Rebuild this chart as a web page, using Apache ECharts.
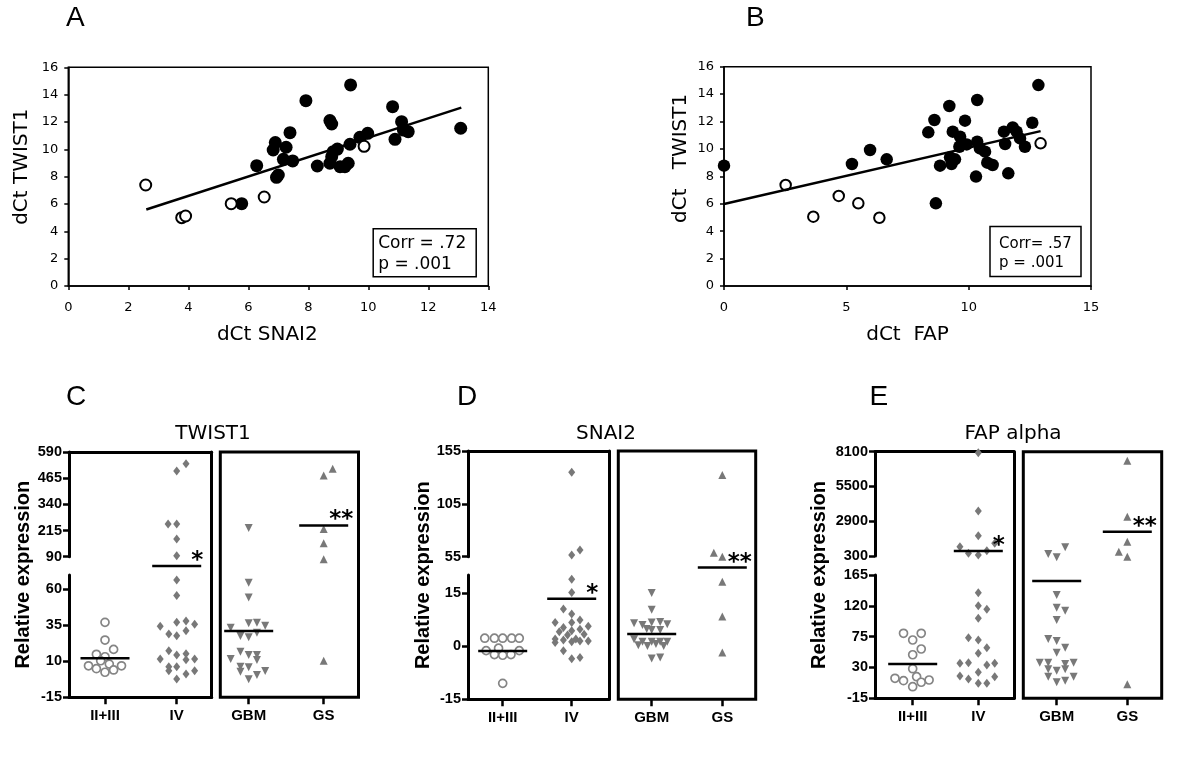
<!DOCTYPE html>
<html><head><meta charset="utf-8">
<script src="https://cdn.jsdelivr.net/npm/echarts@6/dist/echarts.min.js"></script>
<style>html,body{margin:0;padding:0;background:#fff}#c{width:1200px;height:759px}</style>
</head><body><div id="c"></div>
<script>
// ---------------- DATA ----------------
// Panel A: dCt SNAI2 (x) vs dCt TWIST1 (y)
const aFilled = [[5.78,6.02],[6.28,8.8],[6.83,9.95],[6.9,10.49],[6.94,7.95],[7.0,8.12],[7.17,9.27],[7.26,10.15],[7.39,11.22],[7.48,9.15],[7.92,13.56],[8.3,8.78],[8.72,12.1],[8.78,11.85],[8.72,8.98],[8.78,9.46],[8.83,9.83],[8.97,10.02],[9.06,8.73],[9.22,8.73],[9.33,8.98],[9.39,10.37],[9.41,14.71],[9.72,10.88],[9.98,11.17],[10.81,13.12],[10.89,10.73],[11.11,12.02],[11.17,11.41],[11.33,11.29],[13.08,11.54]];
const aOpen = [[2.58,7.39],[3.78,5.0],[3.91,5.12],[5.43,6.02],[6.53,6.51],[9.86,10.22]];
const aTrend = [[2.6,5.6],[13.1,13.05]];
const aStats = 'Corr = .72\np = .001';
// Panel B: dCt FAP (x) vs dCt TWIST1 (y)
const bFilled = [[0,8.78],[5.23,8.9],[5.97,9.92],[6.65,9.24],[8.35,11.21],[8.6,12.11],[8.66,6.03],[8.83,8.78],[9.21,13.13],[9.24,9.39],[9.3,8.9],[9.35,11.26],[9.44,9.24],[9.65,10.89],[9.62,10.16],[9.85,12.06],[9.92,10.33],[10.3,7.98],[10.35,13.57],[10.35,10.53],[10.46,10.04],[10.67,9.8],[10.76,9.0],[10.98,8.83],[11.44,11.26],[11.49,10.36],[11.62,8.22],[11.8,11.57],[11.96,11.26],[12.1,10.77],[12.3,10.16],[12.6,11.91],[12.85,14.66]];
const bOpen = [[2.52,7.37],[3.65,5.06],[4.69,6.57],[5.49,6.03],[6.35,4.98],[12.94,10.41]];
const bTrend = [[0,5.98],[12.94,11.3]];
const bStats = 'Corr= .57\np = .001';

// Panels C-E: each point = [offset from category centre (category units), relative expression]
const catsLeft = ['II+III','IV'];
const catsRight = ['GBM','GS'];
// C: TWIST1
const cII = [[0,37.1],[0,24.8],[0.12,18.3],[-0.12,14.9],[0,13.2],[-0.06,10.4],[-0.23,6.9],[-0.12,4.9],[0.06,8.1],[0.12,4.0],[0,2.4],[0.23,6.9]];
const cIV = [[0.13,534],[0,499],[-0.12,246],[0,246],[0,175],[0,95],[0,66.5],[0,55.8],[0,37.1],[0.13,38],[0.25,35.7],[-0.23,34.3],[0.13,31.3],[-0.11,29],[0,27.8],[-0.11,17.4],[0,14.4],[0.13,15.3],[0.13,11.1],[-0.23,11.6],[0.25,11.6],[-0.11,6.3],[0,6.3],[-0.11,3.5],[0.13,1.2],[0.25,3.5],[0,-2.3]];
const cGBM = [[0,226.5],[0,64.6],[0,54.4],[0,36.4],[0.11,36.8],[0.22,34.7],[-0.24,33.3],[-0.11,27.6],[0,26.7],[0.11,29.9],[-0.11,16.7],[0,14.4],[0.11,14.4],[-0.24,11.6],[0.11,10.9],[-0.11,6.3],[0,5.8],[-0.11,2.8],[0.11,0.5],[0.22,3.3],[0,-2.5]];
const cGS = [[0.12,510],[0,478],[0,222],[0,154],[0,81],[0,10.4]];
const cMeans = [12.1, 76.2, 31.0, 239];
const cStars = ['', '*', '', '**'];
const cUpper = [90, 590, 125];
const cLower = [-15, 70, 25];
// D: SNAI2
const dII = [[-0.26,2.2],[-0.12,2.2],[0,2.2],[0.13,2.2],[0.24,2.2],[-0.24,-1.3],[-0.12,-2.4],[0,-2.6],[0.12,-2.4],[0.24,-1.3],[-0.06,-0.6],[0,-10.5]];
const dIV = [[0,134.8],[0.12,61.3],[0,56.6],[0,18.8],[0,15.1],[-0.12,10.4],[0,9.0],[-0.24,6.6],[0,6.6],[0.12,7.3],[0.24,5.6],[-0.12,5.2],[0,4.3],[0.12,4.7],[0.18,3.3],[-0.24,2.0],[-0.12,1.7],[0,1.2],[0.06,2.0],[0.12,1.4],[0.24,1.4],[-0.24,1.0],[-0.12,-1.3],[0,-3.6],[0.12,-3.2],[-0.06,3.1],[-0.18,4.0]];
const dGBM = [[0,14.9],[0,10.2],[-0.25,6.4],[-0.13,5.9],[0,6.6],[0.12,6.8],[0.22,6.1],[0,4.5],[0.12,4.5],[-0.07,4.8],[-0.25,1.9],[-0.13,1.2],[0,1.2],[0.12,1.2],[0.22,1.2],[-0.19,0.2],[-0.06,0],[0.06,0.6],[0.17,0],[0,-3.5],[0.12,-3.2]];
const dGS = [[0,132.3],[-0.12,58.8],[0,55],[0,18.1],[0,8.3],[0,-1.8]];
const dMeans = [-1.4, 13.3, 3.4, 22.1];
const dStars = ['', '*', '', '**'];
const dUpper = [55, 155, 50];
const dLower = [-15, 20, 15];
// E: FAP alpha
const eII = [[-0.14,79.9],[0.13,79.9],[0,70.1],[0.13,57],[0,48.6],[0,28.2],[-0.27,14.2],[-0.14,10.7],[0.06,16.5],[0.13,8.4],[0.25,11.7],[0,1.9]];
const eIV = [[0,8017],[0,3660],[0,1816],[-0.28,995],[0.25,1249],[-0.15,502],[0,375],[0.13,696],[0,139.2],[0,120.2],[0.13,115],[0,101.8],[-0.15,73.5],[0,70.1],[0.13,58.9],[0,50.7],[-0.28,36.1],[-0.15,37],[0.13,33.6],[0.25,36.1],[0,23],[-0.28,17.6],[-0.15,13.2],[0.25,16.5],[0,6.9],[0.13,6.9]];
const eGBM = [[0.12,950],[-0.12,449],[0,190.8],[0,135.8],[0,117.3],[0.12,112.9],[0,99.3],[-0.12,71.6],[0,68.6],[0.12,58.9],[0,51.6],[-0.24,37],[-0.12,37],[0.12,35.1],[0.24,37],[-0.12,27.3],[0,25.3],[0.12,27.3],[-0.12,16.5],[0,8.4],[0.12,10.7],[0.24,16.5]];
const eGS = [[0,7419],[0,3236],[0,1368],[-0.12,621],[0,191.7],[0,5.4]];
const eMeans = [35.1, 673, 156.2, 2115];
const eStars = ['', '*', '', '**'];
const eUpper = [300, 8100, 2600];
const eLower = [-15, 165, 45];

// ---------------- LAYOUT / STYLE ----------------
const FV = '"DejaVu Sans", Verdana, sans-serif';
const FA = '"Liberation Sans", Arial, sans-serif';
const grids = [], xAxes = [], yAxes = [], series = [];
function addGrid(g) { grids.push(Object.assign({show:false, outerBoundsMode:'none'}, g)); return grids.length - 1; }
function pushX(a) { xAxes.push(a); return xAxes.length - 1; }
function pushY(a) { yAxes.push(a); return yAxes.length - 1; }
const black = '#000';
const plain = v => String(v);

// ---- Panels A and B ----
function scatterPanel(box, xr, yr, xName, yName, filled, open, trend, opts) {
  const gi = addGrid({left:box[0], top:box[1], width:box[2], height:box[3], show:true, borderColor:black, borderWidth:1.5, backgroundColor:'transparent'});
  const xi = pushX({gridIndex:gi, type:'value', min:xr[0], max:xr[1], interval:xr[2],
    name:xName, nameLocation:'middle', nameGap:opts.xGap,
    nameTextStyle:{fontFamily:FV, fontSize:20, color:black, padding:opts.xPad},
    axisLine:{show:true, onZero:false, lineStyle:{color:black, width:1.5}},
    axisTick:{show:true, length:4, lineStyle:{color:black, width:1.5}},
    axisLabel:{color:black, fontFamily:FV, fontSize:13, margin:15, formatter:plain},
    splitLine:{show:false}});
  const yi = pushY({gridIndex:gi, type:'value', min:yr[0], max:yr[1], interval:yr[2],
    name:yName, nameLocation:'middle', nameGap:opts.yGap,
    nameTextStyle:{fontFamily:FV, fontSize:20, color:black, padding:opts.yPad},
    axisLine:{show:true, onZero:false, lineStyle:{color:black, width:1.5}},
    axisTick:{show:true, length:4, lineStyle:{color:black, width:1.5}},
    axisLabel:{color:black, fontFamily:FV, fontSize:13, margin:10, formatter:plain},
    splitLine:{show:false}});
  series.push({type:'line', xAxisIndex:xi, yAxisIndex:yi, data:trend, symbol:'none', silent:true,
    lineStyle:{color:black, width:2.5, opacity:1}});
  series.push({type:'scatter', xAxisIndex:xi, yAxisIndex:yi, data:filled, symbol:'circle', symbolSize:opts.fs,
    itemStyle:{color:black, opacity:1}, silent:true});
  series.push({type:'scatter', xAxisIndex:xi, yAxisIndex:yi, data:open, symbol:'circle', symbolSize:opts.os,
    itemStyle:{color:'#fff', borderColor:black, borderWidth:2, opacity:1}, silent:true});
}
scatterPanel([68.3, 67.3, 420, 218.7], [0,14,2], [0,16,2], 'dCt SNAI2', 'dCt TWIST1', aFilled, aOpen, aTrend,
  {xGap:39, yGap:37, xPad:[0,22,0,0], yPad:[0,0,0,20], fs:13, os:11});
scatterPanel([724, 66.7, 367, 219.3], [0,15,5], [0,16,2], 'dCt  FAP', 'dCt   TWIST1', bFilled, bOpen, bTrend,
  {xGap:39, yGap:33, xPad:[0,0,0,0], yPad:[0,0,0,36], fs:12.5, os:10.5});

// ---- Panels C, D, E ----
const SYM = [
  {symbol:'circle', symbolSize:8, itemStyle:{color:'#fff', borderColor:'#858585', borderWidth:1.7, opacity:1}},
  {symbol:'diamond', symbolSize:[7,9], itemStyle:{color:'#787878', opacity:1}},
  {symbol:'triangle', symbolSize:8, symbolRotate:180, itemStyle:{color:'#787878', opacity:1}},
  {symbol:'triangle', symbolSize:8, itemStyle:{color:'#787878', opacity:1}}
];
function lineAxis(gi, pos) {
  return {gridIndex:gi, type:'value', min:0, max:1, position:pos,
    axisLine:{show:true, onZero:false, lineStyle:{color:black, width:3}},
    axisTick:{show:false}, axisLabel:{show:false}, splitLine:{show:false}};
}
function visY(gi, ax, offset, showMax) {
  return {gridIndex:gi, type:'value', min:ax[0], max:ax[1], interval:ax[2], position:'left', offset:offset,
    axisLine:{show:true, onZero:false, lineStyle:{color:black, width:3}},
    axisTick:{show:true, length:6, lineStyle:{color:black, width:2.5}},
    axisLabel:{show:true, margin:7, color:black, fontFamily:FA, fontWeight:'bold', fontSize:14.5,
      showMinLabel:true, showMaxLabel:showMax, formatter:plain},
    splitLine:{show:false}};
}
function hidY(gi, ax) { return {gridIndex:gi, type:'value', min:ax[0], max:ax[1], show:false}; }

function dotPanel(L, P) {
  // left frame (top, right, bottom lines; left side is the broken y axis)
  const lf = addGrid({left:L.axisX, top:L.top, width:L.lRight - L.axisX, height:L.bottom - L.top});
  pushX(lineAxis(lf, 'bottom')); pushX(lineAxis(lf, 'top')); pushY(lineAxis(lf, 'right'));
  pushY({gridIndex:lf, type:'value', min:0, max:1, position:'left', axisLine:{show:false, onZero:false},
    axisTick:{show:false}, axisLabel:{show:false}, splitLine:{show:false},
    name:'Relative expression', nameLocation:'middle', nameGap:L.nameGap,
    nameTextStyle:{fontFamily:FA, fontWeight:'bold', fontSize:20, color:black}});
  // right frame
  const rf = addGrid({left:L.rLeft, top:L.top, width:L.rRight - L.rLeft, height:L.bottom - L.top,
    show:true, borderColor:black, borderWidth:3, backgroundColor:'transparent'});
  pushX({gridIndex:rf, type:'value', min:0, max:1, show:false});
  pushY({gridIndex:rf, type:'value', min:0, max:1, show:false});

  const boxes = [
    {c0:L.c[0], step:L.c[1] - L.c[0], cats:catsLeft, gi:[0,1], left:true},
    {c0:L.g[0], step:L.g[1] - L.g[0], cats:catsRight, gi:[2,3], left:false}
  ];
  boxes.forEach(b => {
    const gl = b.c0 - b.step / 2, gw = 2 * b.step;
    const up = addGrid({left:gl, top:L.top, width:gw, height:L.upBot - L.top});
    const lo = addGrid({left:gl, top:L.lowTop, width:gw, height:L.bottom - L.lowTop});
    const xu = pushX({gridIndex:up, type:'value', min:-0.5, max:1.5, show:false});
    const xl = pushX({gridIndex:lo, type:'value', min:-0.5, max:1.5, show:false, position:'top'});
    pushX({gridIndex:lo, type:'category', data:b.cats, position:'bottom', boundaryGap:true,
      axisLine:{show:false, onZero:false},
      axisTick:{show:true, alignWithLabel:true, length:7, lineStyle:{color:black, width:2.5}},
      axisLabel:{show:true, color:black, fontFamily:FA, fontWeight:'bold', fontSize:15, margin:11},
      splitLine:{show:false}});
    const yu = pushY(b.left ? visY(up, P.upper, gl - L.axisX, true) : hidY(up, P.upper));
    const yl = pushY(b.left ? visY(lo, P.lower, gl - L.axisX, P.showLowerMax) : hidY(lo, P.lower));
    const hw = 24.5 / b.step;
    b.gi.forEach((g, k) => {
      const pts = P.groups[g].map(p => [k + p[0], p[1]]);
      const s = SYM[g];
      [[up, xu, yu, pts.filter(p => p[1] >= P.upper[0])], [lo, xl, yl, pts.filter(p => p[1] < P.upper[0])]].forEach(t => {
        if (!t[3].length) return;
        series.push(Object.assign({type:'scatter', xAxisIndex:t[1], yAxisIndex:t[2], data:t[3], clip:false, silent:true}, s));
      });
      const m = P.means[g];
      const inUp = m >= P.upper[0];
      const xa = inUp ? xu : xl, ya = inUp ? yu : yl;
      series.push({type:'line', xAxisIndex:xa, yAxisIndex:ya, clip:false, silent:true, symbol:'none',
        data:[[k - hw, m], [k + hw, m]], lineStyle:{color:black, width:2.5, opacity:1}});
      const star = P.stars[g];
      if (star) {
        series.push({type:'scatter', xAxisIndex:xa, yAxisIndex:ya, clip:false, silent:true, symbolSize:0,
          itemStyle:{opacity:1},
          data:[{value:[k + hw, m], label:{show:true, position:'inside', formatter:star,
            offset:[star.length > 1 ? -7 : -4, -5], color:black, fontFamily:FV, fontWeight:'bold', fontSize:23,
            textBorderWidth:0}}]});
      }
    });
  });
}
dotPanel({axisX:69, lRight:211.7, rLeft:220.3, rRight:358.5, top:452, upBot:556.7, lowTop:575, bottom:697.3,
  c:[105,176.7], g:[248.7,323.7], nameGap:36},
  {groups:[cII,cIV,cGBM,cGS], means:cMeans, stars:cStars, upper:cUpper, lower:cLower, showLowerMax:false});
dotPanel({axisX:468, lRight:609, rLeft:618.3, rRight:755.7, top:451, upBot:556.7, lowTop:575, bottom:699.3,
  c:[502.7,571.7], g:[651.7,722.3], nameGap:35},
  {groups:[dII,dIV,dGBM,dGS], means:dMeans, stars:dStars, upper:dUpper, lower:dLower, showLowerMax:false});
dotPanel({axisX:875, lRight:1014, rLeft:1023.3, rRight:1161.7, top:451.7, upBot:556, lowTop:575, bottom:698.3,
  c:[912.7,978.3], g:[1056.7,1127.3], nameGap:45.5},
  {groups:[eII,eIV,eGBM,eGS], means:eMeans, stars:eStars, upper:eUpper, lower:eLower, showLowerMax:true});

// ---- texts ----
const letterStyle = {fontFamily:FA, fontSize:28, fontWeight:'normal', color:black};
const headStyle = {fontFamily:FV, fontSize:20, fontWeight:'normal', color:black};
const titles = [
  {text:'A', left:66, top:4, padding:0, textAlign:'left', textStyle:letterStyle},
  {text:'B', left:746, top:4, padding:0, textAlign:'left', textStyle:letterStyle},
  {text:'C', left:66, top:383, padding:0, textAlign:'left', textStyle:letterStyle},
  {text:'D', left:457, top:383, padding:0, textAlign:'left', textStyle:letterStyle},
  {text:'E', left:869.5, top:383, padding:0, textAlign:'left', textStyle:letterStyle},
  {text:'TWIST1', left:213, top:424, padding:0, textAlign:'center', textStyle:headStyle},
  {text:'SNAI2', left:606, top:424, padding:0, textAlign:'center', textStyle:headStyle},
  {text:'FAP alpha', left:1013, top:424, padding:0, textAlign:'center', textStyle:headStyle},
  {text:aStats, left:372.7, top:228, padding:[4.7,10,2,5.5], textAlign:'left', borderColor:black, borderWidth:1.5,
    textStyle:{fontFamily:FV, fontSize:17, fontWeight:'normal', color:black, lineHeight:21}},
  {text:bStats, left:990, top:226, padding:[8.4,9.3,4,9], textAlign:'left', borderColor:black, borderWidth:1.5,
    textStyle:{fontFamily:FV, fontSize:15, fontWeight:'normal', color:black, lineHeight:19.3}}
];

const chart = echarts.init(document.getElementById('c'), null, {renderer:'canvas'});
chart.setOption({
  animation:false,
  backgroundColor:'#fff',
  textStyle:{fontFamily:FV},
  title:titles,
  grid:grids,
  xAxis:xAxes,
  yAxis:yAxes,
  series:series
});
</script>
</body></html>
